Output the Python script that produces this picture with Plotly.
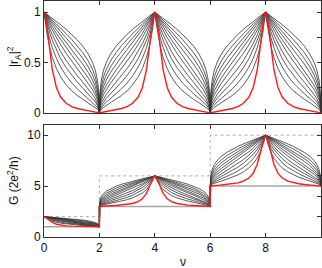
import plotly.graph_objects as go

# distance from a peak (in units of nu) at which the curves were read
d_vals = [0, 0.05, 0.1, 0.2, 0.3, 0.45, 0.6, 0.8, 1.0, 1.2, 1.4, 1.6, 1.75, 1.85, 1.93, 1.98, 2.0]

# |r_A|^2 half-period profiles (black family, lowest to highest)
c1 = [1, 0.888, 0.796, 0.655, 0.551, 0.439, 0.358, 0.279, 0.220, 0.174, 0.135, 0.101, 0.075, 0.056, 0.037, 0.020, 0]
c2 = [1, 0.922, 0.854, 0.740, 0.648, 0.540, 0.456, 0.368, 0.298, 0.240, 0.190, 0.144, 0.108, 0.082, 0.055, 0.029, 0]
c3 = [1, 0.943, 0.891, 0.799, 0.721, 0.622, 0.539, 0.449, 0.373, 0.307, 0.247, 0.190, 0.145, 0.111, 0.075, 0.041, 0]
c4 = [1, 0.957, 0.916, 0.842, 0.775, 0.687, 0.610, 0.520, 0.442, 0.371, 0.305, 0.238, 0.184, 0.142, 0.098, 0.054, 0]
c5 = [1, 0.967, 0.936, 0.877, 0.822, 0.746, 0.677, 0.592, 0.515, 0.442, 0.370, 0.295, 0.233, 0.182, 0.127, 0.070, 0]
c6 = [1, 0.974, 0.949, 0.900, 0.854, 0.788, 0.726, 0.648, 0.573, 0.500, 0.426, 0.347, 0.277, 0.220, 0.156, 0.088, 0]
c7 = [1, 0.979, 0.959, 0.919, 0.881, 0.824, 0.770, 0.699, 0.629, 0.558, 0.484, 0.401, 0.327, 0.262, 0.189, 0.108, 0]
c8 = [1, 0.983, 0.967, 0.934, 0.902, 0.854, 0.807, 0.744, 0.680, 0.613, 0.540, 0.456, 0.377, 0.308, 0.225, 0.132, 0]
c9 = [1, 0.987, 0.974, 0.947, 0.921, 0.881, 0.841, 0.786, 0.729, 0.667, 0.598, 0.515, 0.434, 0.360, 0.269, 0.161, 0]
c10 = [1, 0.990, 0.980, 0.960, 0.939, 0.907, 0.875, 0.829, 0.780, 0.725, 0.662, 0.583, 0.503, 0.425, 0.326, 0.202, 0]
black_curves = [c1, c2, c3, c4, c5, c6, c7, c8, c9, c10]
red_curve = [1, 0.964, 0.871, 0.63, 0.43, 0.25, 0.158, 0.096, 0.063, 0.045, 0.032, 0.021, 0.014, 0.009, 0.005, 0.002, 0]

peaks = [0, 4, 8]          # nu where |r_A|^2 = 1
channels = [1, 3, 5]       # plateau channel number around each peak
plateau_edges = [0, 2, 6, 10]
x_ticks = [0, 2, 4, 6, 8]


def build(profile):
    nus, r2, g = [], [], []
    for p, n in zip(peaks, channels):
        if p - 2 >= 0:
            for d, v in zip(reversed(d_vals), reversed(profile)):
                nus.append(p - d); r2.append(v); g.append(n * (1 + v))
        for d, v in zip(d_vals, profile):
            if p + d <= 10:
                nus.append(p + d); r2.append(v); g.append(n * (1 + v))
    return nus, r2, g


fig = go.Figure()

# reference staircases in bottom panel
base_x, base_y, top_x, top_y = [], [], [], []
for i, n in enumerate(channels):
    base_x += [plateau_edges[i], plateau_edges[i + 1]]
    base_y += [n, n]
    top_x += [plateau_edges[i], plateau_edges[i + 1]]
    top_y += [2 * n, 2 * n]
fig.add_trace(go.Scatter(x=base_x, y=base_y, mode="lines", line=dict(color="#a8a8a8", width=1.5),
                         xaxis="x2", yaxis="y2", showlegend=False, hoverinfo="skip"))
fig.add_trace(go.Scatter(x=top_x, y=top_y, mode="lines", line=dict(color="#9a9a9a", width=0.8, dash="dot"),
                         xaxis="x2", yaxis="y2", showlegend=False, hoverinfo="skip"))

for prof in black_curves:
    nus, r2, g = build(prof)
    fig.add_trace(go.Scatter(x=nus, y=r2, mode="lines", line=dict(color="#333333", width=0.8),
                             xaxis="x", yaxis="y", showlegend=False))
    fig.add_trace(go.Scatter(x=nus, y=g, mode="lines", line=dict(color="#333333", width=0.8),
                             xaxis="x2", yaxis="y2", showlegend=False))

nus, r2, g = build(red_curve)
fig.add_trace(go.Scatter(x=nus, y=r2, mode="lines", line=dict(color="#ff1a1a", width=1.4),
                         xaxis="x", yaxis="y", showlegend=False))
fig.add_trace(go.Scatter(x=nus, y=g, mode="lines", line=dict(color="#ff1a1a", width=1.4),
                         xaxis="x2", yaxis="y2", showlegend=False))

# invisible traces to host right-side tick axes
fig.add_trace(go.Scatter(x=[0], y=[0], mode="markers", marker=dict(opacity=0), xaxis="x", yaxis="y3",
                         showlegend=False, hoverinfo="skip"))
fig.add_trace(go.Scatter(x=[0], y=[0], mode="markers", marker=dict(opacity=0), xaxis="x2", yaxis="y4",
                         showlegend=False, hoverinfo="skip"))

tickfont = dict(family="Liberation Sans, Arial, sans-serif", size=12, color="#111")
axcommon = dict(showgrid=False, zeroline=False, showline=True, linecolor="#333", linewidth=1,
                ticks="inside", ticklen=4, tickcolor="#333", tickfont=tickfont)

top_dom = [0.5254, 1.0]
bot_dom = [0.0, 0.4746]

fig.update_layout(
    width=322, height=268,
    margin=dict(l=44, r=1, t=1, b=31),
    paper_bgcolor="white", plot_bgcolor="white",
    xaxis=dict(domain=[0, 1], range=[0, 10], anchor="y", tickvals=x_ticks, showticklabels=False,
               mirror="ticks", **axcommon),
    yaxis=dict(domain=top_dom, range=[0, 1.11], anchor="x", tickvals=[0, 0.5, 1],
               ticktext=["0", "0.5", "1"], mirror=True, **axcommon),
    yaxis3=dict(overlaying="y", side="right", anchor="x", range=[0, 1.11],
                tickvals=[0, 0.25, 0.5, 0.75, 1], showticklabels=False, showgrid=False, zeroline=False,
                showline=False, ticks="inside", ticklen=4, tickcolor="#333"),
    xaxis2=dict(domain=[0, 1], range=[0, 10], anchor="y2", tickvals=x_ticks, mirror="ticks", **axcommon),
    yaxis2=dict(domain=bot_dom, range=[0, 11], anchor="x2", tickvals=[0, 5, 10], mirror=True, **axcommon),
    yaxis4=dict(overlaying="y2", side="right", anchor="x2", range=[0, 11],
                tickvals=[0, 2, 4, 6, 8, 10], showticklabels=False, showgrid=False, zeroline=False,
                showline=False, ticks="inside", ticklen=4, tickcolor="#333"),
)

labfont = dict(family="Liberation Sans, Arial, sans-serif", size=12, color="#111")
fig.add_annotation(text="|r<sub>A</sub>|<sup>2</sup>", xref="paper", yref="paper",
                   x=(14 - 44) / 277, y=(237 - 57) / 236, textangle=-90, showarrow=False,
                   xanchor="center", yanchor="middle", font=labfont)
fig.add_annotation(text="G (2e<sup>2</sup>/h)", xref="paper", yref="paper",
                   x=(13 - 44) / 277, y=(237 - 181) / 236, textangle=-90, showarrow=False,
                   xanchor="center", yanchor="middle", font=labfont)
fig.add_annotation(text="ν", xref="paper", yref="paper",
                   x=0.5, y=(237 - 262) / 236, showarrow=False,
                   xanchor="center", yanchor="middle", font=labfont)

fig.write_html("out.html", config={"displayModeBar": False},
               post_script="document.body.style.margin='0';")
